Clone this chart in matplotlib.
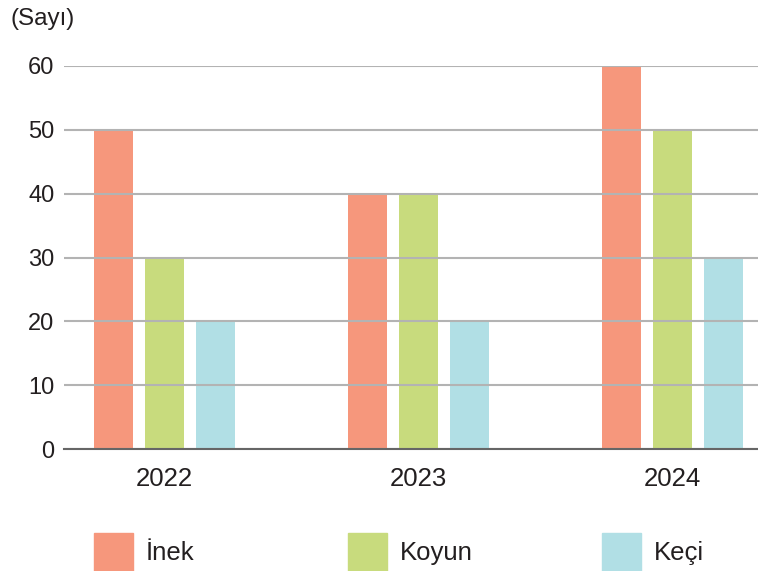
import numpy as np
import matplotlib
matplotlib.use('Agg')
import matplotlib.pyplot as plt
from matplotlib.patches import Rectangle
from matplotlib.transforms import blended_transform_factory

# Data
years = ['2022', '2023', '2024']
series = ['İnek', 'Koyun', 'Keçi']
inek = [50, 40, 60]
koyun = [30, 40, 50]
keci = [20, 20, 30]
colors = ['#F6977C', '#C8DB7D', '#B1DFE5']
yticks = [0, 10, 20, 30, 40, 50, 60]

plt.rcParams['font.family'] = ['Liberation Sans', 'DejaVu Sans']
plt.rcParams['font.size'] = 16.5
plt.rcParams['text.color'] = '#231f20'

fig = plt.figure(figsize=(7.58, 5.71), dpi=100)
ax = fig.add_axes([64 / 758, 1 - 449 / 571, 1 - 64 / 758, (449 - 66) / 571])

x = np.arange(len(years))
w = 0.1535
off = 0.2008
values = [inek, koyun, keci]
for k, (vals, col) in enumerate(zip(values, colors)):
    ax.bar(x + (k - 1) * off, vals, width=w, color=col, zorder=1)

ax.set_xlim(-0.3957, 2.3366)
ax.set_ylim(0, 60)
ax.set_yticks(yticks)
ax.set_xticks(x)
ax.set_xticklabels(years, fontsize=18.5)
ax.tick_params(axis='both', length=0, labelcolor='#231f20')
ax.tick_params(axis='y', pad=7, labelsize=17)
ax.tick_params(axis='x', pad=13)
ax.grid(axis='y', color='#b3b3b3', linewidth=1.5, zorder=2)
ax.set_axisbelow(False)
for s in ['top', 'right', 'left']:
    ax.spines[s].set_visible(False)
ax.spines['bottom'].set_color('#666666')
ax.spines['bottom'].set_linewidth(1.5)
ax.spines['bottom'].set_zorder(3)

# Legend aligned with the first bar of each group
trans = blended_transform_factory(ax.transData, fig.transFigure)
for k, (name, col) in enumerate(zip(series, colors)):
    x0 = x[k] - off - w / 2
    ax.add_patch(Rectangle((x0, 0.0), w, 38 / 571, color=col,
                           transform=trans, clip_on=False))
    ax.text(x[k] - w / 2 + 0.002, 1 - 553 / 571, name, transform=trans,
            ha='left', va='center', fontsize=18.5)

fig.text(11 / 758, 1 - 19 / 571, '(Sayı)', ha='left', va='center', fontsize=17.5)

fig.savefig('out.png', dpi=100)
